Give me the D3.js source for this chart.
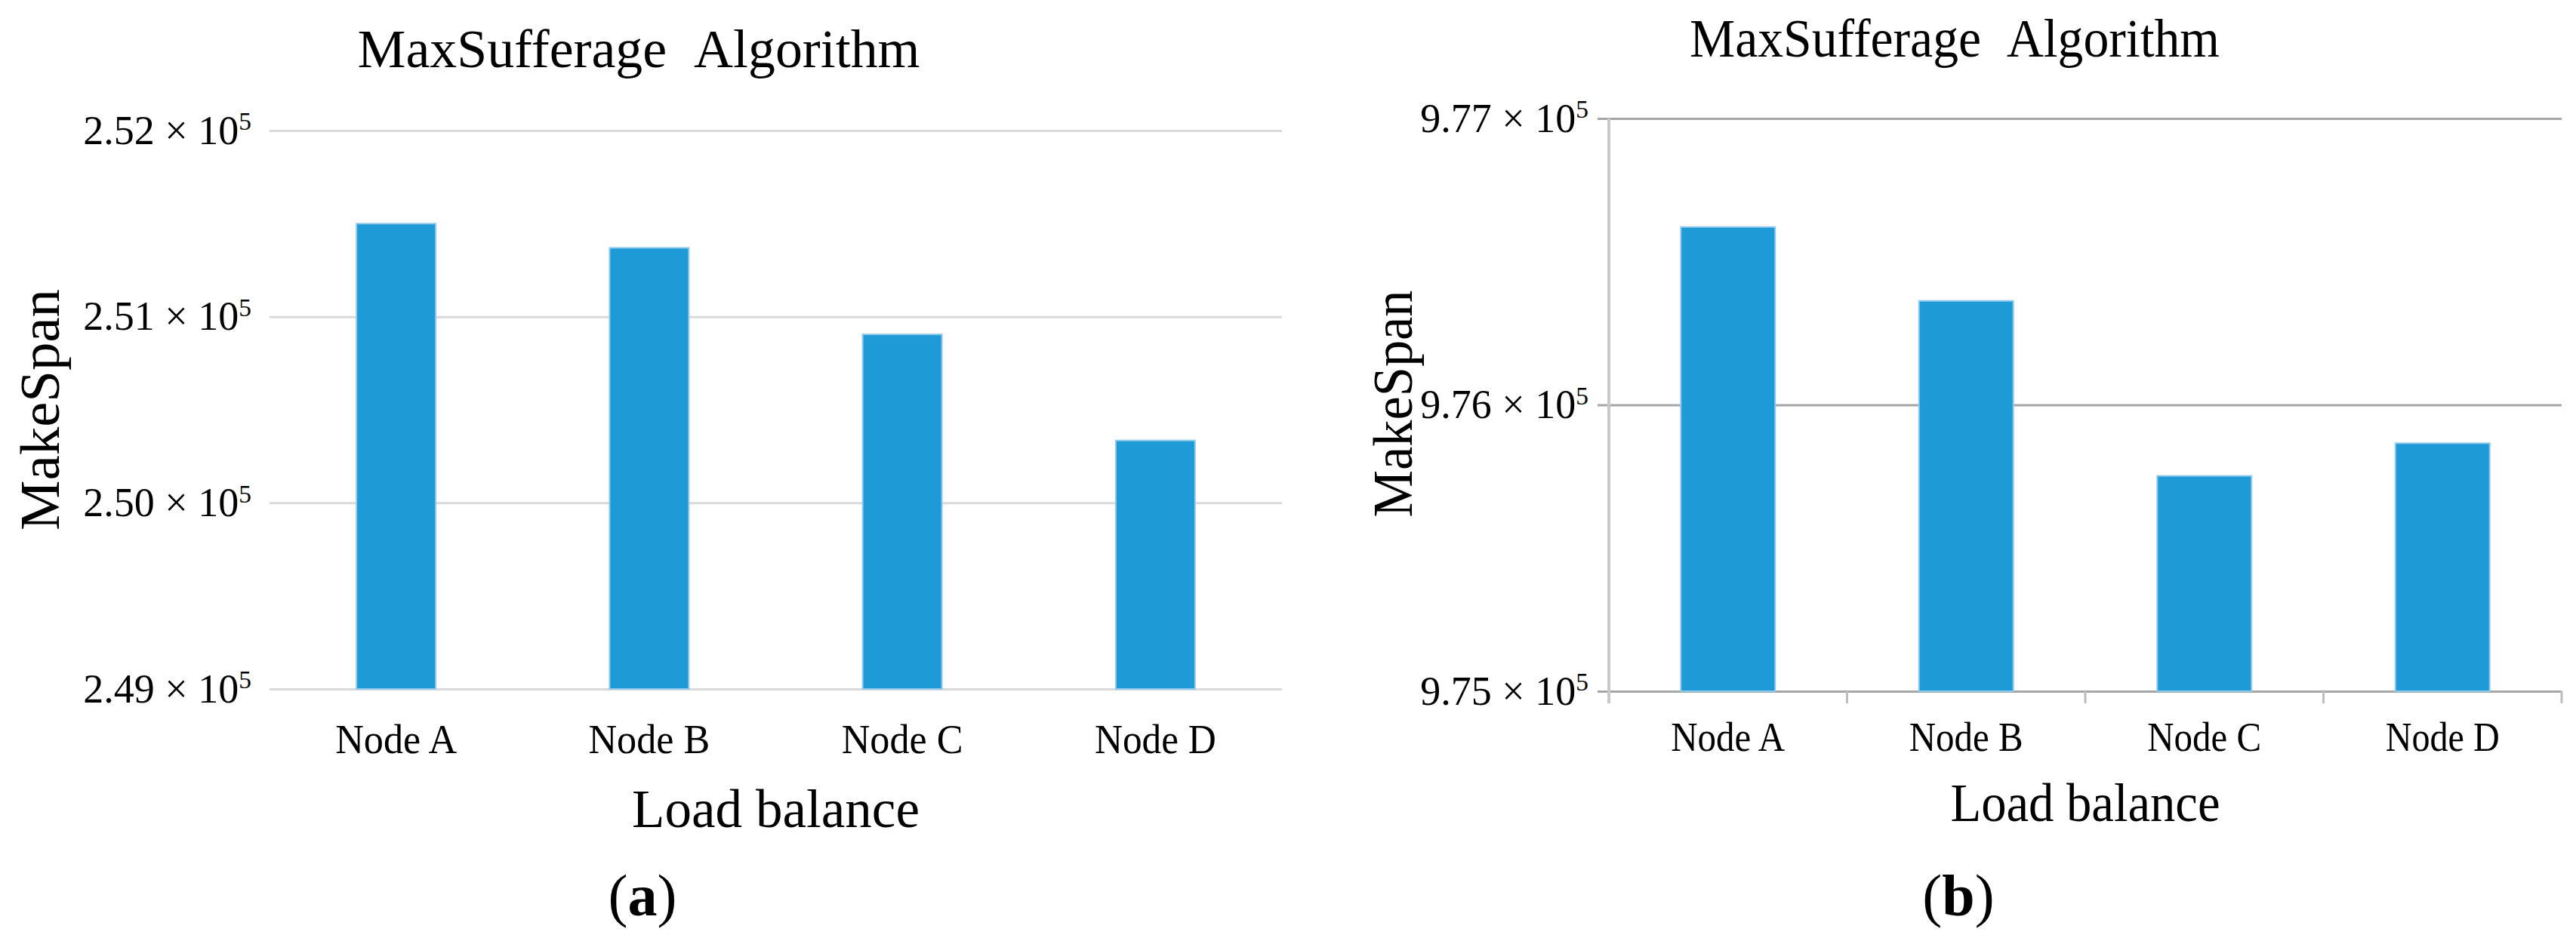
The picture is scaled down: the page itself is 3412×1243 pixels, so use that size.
<!DOCTYPE html>
<html>
<head>
<meta charset="utf-8">
<script src="https://cdn.jsdelivr.net/npm/d3@7"></script>
<style>
  body { margin: 0; background: #fff; }
  text { font-family: 'Liberation Serif', 'Times New Roman', serif; fill: #000; }
</style>
</head>
<body>
<script>
var width = 3412,
  height = 1243

// chart values
var nodes = ['Node A', 'Node B', 'Node C', 'Node D']
var makespanA = [251500, 251370, 250905, 250335]
var makespanB = [976621, 976363, 975752, 975866]
var ticksA = [249000, 250000, 251000, 252000]
var ticksB = [975000, 976000, 977000]
var titleText = 'MaxSufferage\u00a0\u00a0Algorithm'
var xTitle = 'Load balance'
var yTitle = 'MakeSpan'

var barColor = '#1e9bd7'

var svg = d3.select('body').append('svg')
  .attr('width', width)
  .attr('height', height)

svg.append('rect').attr('width', width).attr('height', height).attr('fill', '#fff')

function sciLabel (sel) {
  sel.each(function (d) {
    var t = d3.select(this)
    t.text(null)
    t.append('tspan').text((d / 1e5).toFixed(2) + ' \u00d7 10')
    t.append('tspan').attr('dy', '-0.55em').attr('font-size', '0.62em').text('5')
  })
}

function panel (p) {
  var g = svg.append('g')

  var x = d3.scaleBand()
    .domain(nodes)
    .range([p.left, p.right])
    .padding(0)

  var y = d3.scaleLinear()
    .domain([p.ticks[0], p.ticks[p.ticks.length - 1]])
    .range([p.bottom, p.top])

  // y axis with gridlines
  var yAxis = g.append('g')
    .attr('transform', 'translate(' + p.left + ',0)')
    .call(d3.axisLeft(y)
      .tickValues(p.ticks)
      .tickSizeInner(-(p.right - p.left))
      .tickSizeOuter(0)
      .tickPadding(p.labelPad))

  yAxis.select('.domain').remove()
  yAxis.selectAll('.tick line')
    .attr('x1', -p.tickOut)
    .attr('stroke', p.gridColor)
    .attr('stroke-width', 3)
  yAxis.selectAll('.tick text')
    .attr('font-size', 54)
    .attr('font-family', "'Liberation Serif', 'Times New Roman', serif")
    .attr('fill', '#000')
    .call(sciLabel)

  if (p.frame) {
    // category boundary ticks below the base line
    g.selectAll('.sep')
      .data(d3.range(nodes.length + 1))
      .enter().append('line')
      .attr('x1', function (i) { return p.left + i * x.step() })
      .attr('x2', function (i) { return p.left + i * x.step() })
      .attr('y1', p.bottom)
      .attr('y2', p.bottom + 16)
      .attr('stroke', '#bdbdbd')
      .attr('stroke-width', 3)
    g.append('line')
      .attr('x1', p.left).attr('x2', p.left)
      .attr('y1', p.top).attr('y2', p.bottom + 16)
      .attr('stroke', '#c8c8c8')
      .attr('stroke-width', 4)
  }

  // bars
  var bw = x.bandwidth() * p.barFrac
  g.selectAll('.bar')
    .data(p.values)
    .enter().append('rect')
    .attr('class', 'bar')
    .attr('x', function (d, i) { return x(nodes[i]) + (x.bandwidth() - bw) / 2 })
    .attr('y', function (d) { return y(d) })
    .attr('width', bw)
    .attr('height', function (d) { return p.bottom - y(d) })
    .attr('fill', barColor)
    .attr('stroke', '#8fcaec')
    .attr('stroke-width', 2)

  // category labels
  var xAxis = g.append('g')
    .attr('transform', 'translate(0,' + p.bottom + ')')
    .call(d3.axisBottom(x).tickSize(0))
  xAxis.select('.domain').remove()
  xAxis.selectAll('.tick text')
    .attr('y', p.catDy)
    .attr('dy', null)
    .attr('font-size', 55)
    .attr('font-family', "'Liberation Serif', 'Times New Roman', serif")
    .attr('fill', '#000')
    .attr('textLength', p.catLen)
    .attr('lengthAdjust', 'spacingAndGlyphs')

  // titles
  g.append('text')
    .attr('x', p.titleX)
    .attr('y', p.titleY)
    .attr('text-anchor', 'middle')
    .attr('font-size', 72)
    .attr('textLength', p.titleLen)
    .attr('lengthAdjust', 'spacingAndGlyphs')
    .text(titleText)

  g.append('text')
    .attr('x', (p.left + p.right) / 2)
    .attr('y', p.xTitleY)
    .attr('text-anchor', 'middle')
    .attr('font-size', 72)
    .attr('textLength', p.xTitleLen)
    .attr('lengthAdjust', 'spacingAndGlyphs')
    .text(xTitle)

  g.append('text')
    .attr('transform', 'translate(' + p.yTitleX + ',' + p.yTitleY + ') rotate(-90)')
    .attr('text-anchor', 'middle')
    .attr('font-size', 74)
    .attr('textLength', p.yTitleLen)
    .attr('lengthAdjust', 'spacingAndGlyphs')
    .text(yTitle)

  var tag = g.append('text')
    .attr('x', p.tagX)
    .attr('y', 1213)
    .attr('text-anchor', 'middle')
    .attr('font-size', 78)
  tag.append('tspan').text('(')
  tag.append('tspan').attr('font-weight', 'bold').text(p.tag)
  tag.append('tspan').text(')')
}

panel({
  values: makespanA,
  ticks: ticksA,
  left: 357, right: 1698, top: 173, bottom: 913,
  labelPad: 24, tickOut: 0, gridColor: '#d9d9d9', frame: false,
  barFrac: 0.313, catDy: 85, catLen: 161,
  titleX: 846, titleY: 89, titleLen: 745,
  xTitleY: 1096, xTitleLen: 381,
  yTitleX: 78, yTitleY: 543, yTitleLen: 320,
  tagX: 851, tag: 'a'
})

panel({
  values: makespanB,
  ticks: ticksB,
  left: 2131, right: 3393, top: 157, bottom: 916,
  labelPad: 27, tickOut: 15, gridColor: '#a6a6a6', frame: true,
  barFrac: 0.396, catDy: 79, catLen: 151,
  titleX: 2589, titleY: 75, titleLen: 702,
  xTitleY: 1088, xTitleLen: 357,
  yTitleX: 1870, yTitleY: 535, yTitleLen: 301,
  tagX: 2594, tag: 'b'
})
</script>
</body>
</html>
